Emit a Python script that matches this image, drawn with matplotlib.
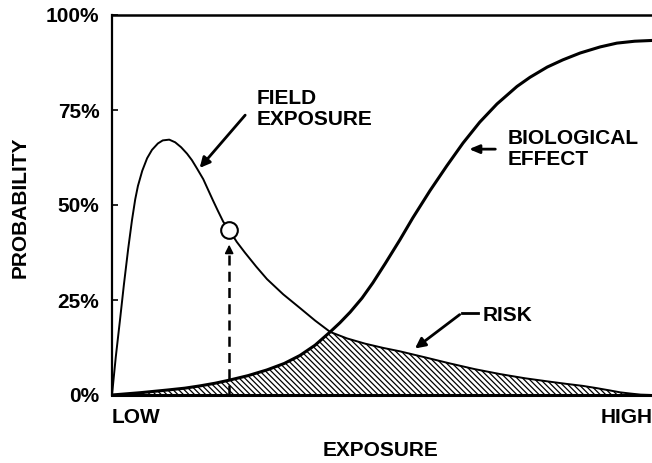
import numpy as np
import matplotlib
matplotlib.use("Agg")
import matplotlib.pyplot as plt

plt.rcParams['font.family'] = ['Liberation Sans', 'DejaVu Sans']
plt.rcParams['font.weight'] = 'bold'
plt.rcParams['hatch.linewidth'] = 0.9

# field exposure distribution (x: exposure 0-100, y: probability %)
field_x = [0.0, 0.7, 1.5, 2.2, 3.0, 3.7, 4.3, 4.8, 5.6, 6.5, 7.4, 8.5, 9.4,
           10.6, 11.7, 12.8, 13.9, 14.8, 15.7, 16.9, 17.8, 18.7, 19.6, 20.6,
           21.7, 23.1, 24.6, 26.7, 28.7, 31.7, 34.8, 37.6, 40.4, 43.5, 46.9,
           50.2, 53.3, 58.0, 62.6, 67.2, 71.9, 76.5, 81.1, 84.3, 87.2, 89.8,
           92.2, 94.1, 95.9, 97.9, 100.0]
field_y = [0.0, 10.0, 20.0, 29.0, 38.5, 46.0, 51.5, 55.0, 59.0, 62.3, 64.5,
           66.2, 67.0, 67.2, 66.5, 65.2, 63.5, 61.8, 59.7, 56.8, 54.0, 51.2,
           48.5, 45.6, 43.4, 40.3, 37.5, 33.8, 30.5, 26.5, 22.9, 19.6, 16.6,
           14.9, 13.5, 12.4, 11.5, 9.9, 8.3, 6.8, 5.5, 4.4, 3.5, 2.9, 2.4, 1.8,
           1.2, 0.7, 0.4, 0.1, 0.0]

# biological effect (dose-response)
bio_x = [0.0, 5.2, 10.2, 13.5, 16.3, 19.1, 21.7, 25.2, 28.7, 31.9, 34.8, 37.6,
         40.4, 42.2, 44.1, 46.3, 48.3, 50.6, 53.3, 55.7, 58.9, 62.0, 65.0,
         68.1, 71.3, 75.0, 77.4, 80.6, 83.5, 86.7, 90.4, 93.5, 96.8, 100.0]
bio_y = [0.0, 0.6, 1.3, 1.8, 2.4, 3.1, 3.9, 5.1, 6.6, 8.3, 10.4, 13.1, 16.6,
         19.0, 21.8, 25.5, 29.5, 34.6, 40.8, 46.6, 53.8, 60.3, 66.3, 71.8,
         76.6, 81.2, 83.6, 86.3, 88.2, 90.0, 91.6, 92.6, 93.1, 93.3]

cross_x = 40.4
# risk = lower of the two curves
risk_x = [x for x in bio_x if x <= cross_x] + [x for x in field_x if x > cross_x]
risk_y = [y for x, y in zip(bio_x, bio_y) if x <= cross_x] + \
         [y for x, y in zip(field_x, field_y) if x > cross_x]

point_x, point_y = 21.7, 43.4
yticks = [0, 25, 50, 75, 100]
ytick_labels = ['0%', '25%', '50%', '75%', '100%']

fig = plt.figure(figsize=(6.52, 4.63), dpi=100)
ax = fig.add_axes([112 / 652, 68 / 463, 540 / 652, 380 / 463])

ax.fill_between(risk_x, 0, risk_y, facecolor='white', edgecolor='black',
                hatch='\\\\\\\\\\\\', linewidth=0)
ax.plot(field_x, field_y, color='black', lw=1.4, solid_joinstyle='round')
ax.plot(bio_x, bio_y, color='black', lw=2.2, solid_joinstyle='round')

# dashed arrow up to the marked point
ax.plot([point_x, point_x], [0, 37.5], color='black', lw=1.8,
        linestyle=(0, (4, 2.5)))
ax.annotate('', xy=(point_x, 40.3), xytext=(point_x, 37.0),
            arrowprops=dict(arrowstyle='-|>,head_length=0.5,head_width=0.25',
                            color='black', lw=1.2))
ax.plot([point_x], [point_y], 'o', markersize=12, markerfacecolor='white',
        markeredgecolor='black', markeredgewidth=1.5)

fs = 15
ax.text(26.7, 80.5, 'FIELD\nEXPOSURE', fontsize=fs, fontweight='bold',
        va='top', ha='left', linespacing=1.15)
ax.annotate('', xy=(15.9, 59.2), xytext=(25.0, 74.2),
            arrowprops=dict(arrowstyle='-|>,head_length=0.6,head_width=0.3',
                            color='black', lw=2))

ax.text(73.3, 70.0, 'BIOLOGICAL\nEFFECT', fontsize=fs, fontweight='bold',
        va='top', ha='left', linespacing=1.15)
ax.annotate('', xy=(65.6, 64.7), xytext=(71.5, 64.7),
            arrowprops=dict(arrowstyle='-|>,head_length=0.6,head_width=0.25',
                            color='black', lw=2))

ax.text(68.7, 20.8, 'RISK', fontsize=fs, fontweight='bold',
        va='center', ha='left')
ax.plot([67.8, 64.8], [21.6, 21.6], color='black', lw=2)
ax.annotate('', xy=(55.7, 11.8), xytext=(64.8, 21.6),
            arrowprops=dict(arrowstyle='-|>,head_length=0.6,head_width=0.3',
                            color='black', lw=2))

ax.set_xlim(0, 100)
ax.set_ylim(0, 100)
ax.set_xticks([])
ax.set_yticks(yticks)
ax.set_yticklabels(ytick_labels, fontsize=fs, fontweight='bold')
ax.tick_params(axis='y', direction='in', length=4.5, width=1.2, pad=9)

ax.spines['right'].set_visible(False)
ax.spines['left'].set_linewidth(1.6)
ax.spines['top'].set_linewidth(1.8)
ax.spines['bottom'].set_linewidth(2.2)

ax.text(0, -6, 'LOW', fontsize=fs, fontweight='bold', ha='left', va='center',
        clip_on=False)
ax.text(90.4, -6, 'HIGH', fontsize=fs, fontweight='bold', ha='left',
        va='center', clip_on=False)
fig.text(380 / 652, 1 - 450 / 463, 'EXPOSURE', fontsize=fs, fontweight='bold',
         ha='center', va='center')
fig.text(20 / 652, 1 - 207 / 463, 'PROBABILITY', fontsize=fs,
         fontweight='bold', ha='center', va='center', rotation=90)

fig.savefig('out.png', dpi=100)
